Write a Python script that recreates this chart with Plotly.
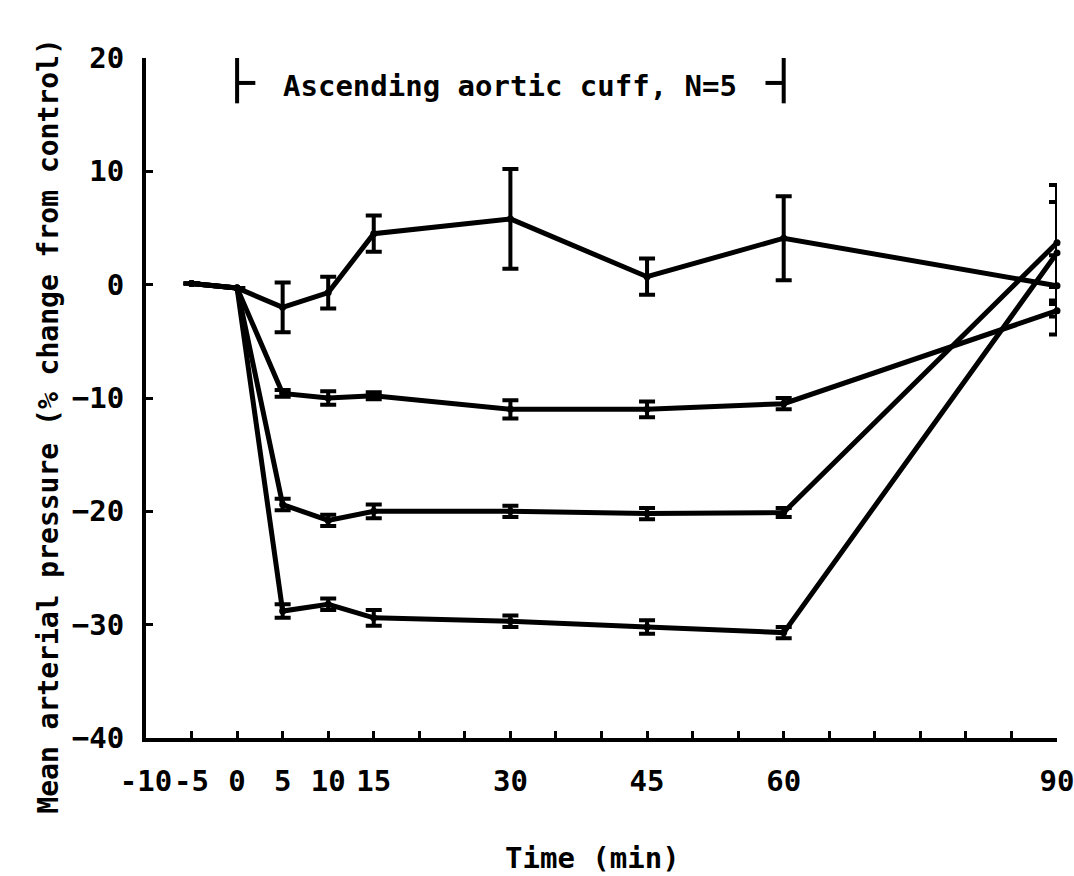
import plotly.graph_objects as go

# ---- data ----
time_min = [-5, 0, 5, 10, 15, 30, 45, 60, 90]

cuff_none_mean = [0.1, -0.3, -2.0, -0.7, 4.5, 5.8, 0.7, 4.1, -0.1]
cuff_none_err = [0.0, 0.0, 2.2, 1.4, 1.6, 4.4, 1.6, 3.7, 2.7]

cuff_10_mean = [0.1, -0.3, -9.6, -10.0, -9.8, -11.0, -11.0, -10.5, -2.3]
cuff_10_err = [0.0, 0.0, 0.3, 0.6, 0.3, 0.8, 0.7, 0.5, 2.1]

cuff_20_mean = [0.1, -0.3, -19.4, -20.8, -20.0, -20.0, -20.2, -20.1, 3.7]
cuff_20_err = [0.0, 0.0, 0.5, 0.5, 0.6, 0.5, 0.5, 0.4, 5.1]

cuff_30_mean = [0.1, -0.3, -28.8, -28.2, -29.4, -29.7, -30.2, -30.7, 2.8]
cuff_30_err = [0.0, 0.0, 0.6, 0.5, 0.7, 0.5, 0.6, 0.5, 4.5]

x_tickvals = list(range(-10, 95, 5))
x_labelled = [-10, -5, 0, 5, 10, 15, 30, 45, 60, 90]
x_ticktext = [str(v) if v in x_labelled else "" for v in x_tickvals]
y_tickvals = [-40, -30, -20, -10, 0, 10, 20]

cuff_period = [0, 60]
bracket_label = "Ascending aortic cuff, N=5"

FONT = "DejaVu Sans Mono"

fig = go.Figure()
for mean, err in [(cuff_none_mean, cuff_none_err), (cuff_10_mean, cuff_10_err),
                  (cuff_20_mean, cuff_20_err), (cuff_30_mean, cuff_30_err)]:
    fig.add_trace(go.Scatter(
        x=time_min, y=mean, mode="lines+markers",
        line=dict(color="black", width=5),
        marker=dict(color="black", size=7),
        error_y=dict(type="data", array=err, visible=True,
                     color="black", thickness=4, width=8),
        showlegend=False, hoverinfo="skip", cliponaxis=False))

# bracket marking the cuff period
c0, c1 = cuff_period
fig.add_trace(go.Scatter(x=[c0, c0, None, c0, c0 + 2, None, c1, c1, None, c1, c1 - 2],
                         y=[16.0, 20.1, None, 17.8, 17.8, None, 16.0, 20.1, None, 17.8, 17.8],
                         mode="lines", line=dict(color="black", width=4),
                         showlegend=False, hoverinfo="skip", cliponaxis=False))

fig.add_annotation(x=(c0 + c1) / 2, y=17.5, xref="x", yref="y", text=bracket_label,
                   showarrow=False, font=dict(family=FONT, size=29, color="black", weight="bold"))

fig.add_annotation(xref="paper", yref="paper", x=-0.127, y=0.459,
                   text="Mean arterial pressure (% change from control)",
                   textangle=-90, showarrow=False,
                   font=dict(family=FONT, size=28, color="black", weight="bold"))
fig.add_annotation(xref="paper", yref="paper", x=0.49, y=-0.205,
                   text="Time (min)", showarrow=False,
                   font=dict(family=FONT, size=29, color="black", weight="bold"))

fig.update_layout(
    width=1074, height=876,
    margin=dict(l=146, r=17, t=58, b=138),
    plot_bgcolor="white", paper_bgcolor="white",
    font=dict(family=FONT, size=29, color="black", weight="bold"),
)
fig.update_xaxes(range=[-10, 90], tickvals=x_tickvals, ticktext=x_ticktext,
                 tickangle=0, ticklabeloverflow="allow", automargin=False,
                 showgrid=False, zeroline=False, showline=True, linecolor="black",
                 linewidth=4, ticks="inside", ticklen=7, tickwidth=3, tickcolor="black",
                 ticklabelstandoff=14)
fig.update_yaxes(range=[-40, 20], tickvals=y_tickvals, automargin=False,
                 showgrid=False, zeroline=False, showline=True, linecolor="black",
                 linewidth=4, ticks="inside", ticklen=7, tickwidth=3, tickcolor="black",
                 ticklabelstandoff=12)

fig.write_html("out.html")
